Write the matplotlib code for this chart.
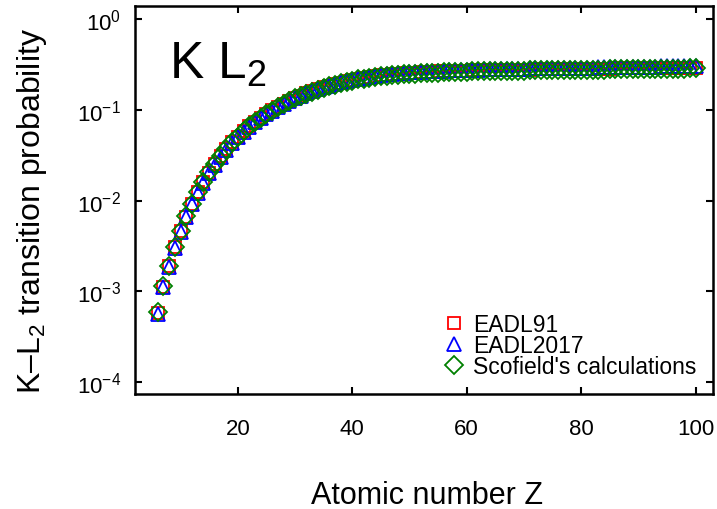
import matplotlib
matplotlib.use("Agg")
import matplotlib.pyplot as plt
from matplotlib.ticker import LogLocator, NullLocator, FixedLocator

plt.rcParams['font.family'] = ['Liberation Sans', 'DejaVu Sans']
plt.rcParams['mathtext.fontset'] = 'custom'
plt.rcParams['mathtext.rm'] = 'Liberation Sans'
plt.rcParams['mathtext.it'] = 'Liberation Sans:italic'
plt.rcParams['mathtext.bf'] = 'Liberation Sans:bold'
plt.rcParams['mathtext.default'] = 'regular'

Z = list(range(6, 101))

eadl91 = [5.8e-4, 1.13e-3, 1.9e-3, 3.1e-3, 4.6e-3, 6.7e-3, 9.2e-3, 1.24e-2, 1.6e-2, 2.03e-2,
          2.55e-2, 3.1e-2, 3.7e-2, 4.4e-2, 5.1e-2,
          0.058, 0.066, 0.074, 0.082, 0.090, 0.099, 0.108, 0.117, 0.126, 0.135,
          0.144, 0.153, 0.162, 0.170, 0.178, 0.186, 0.194, 0.201, 0.208, 0.215,
          0.221, 0.227, 0.232, 0.237, 0.241, 0.245, 0.248, 0.251, 0.254, 0.257,
          0.259, 0.261, 0.263, 0.265, 0.266, 0.268, 0.269, 0.270, 0.271, 0.272,
          0.273, 0.274, 0.275, 0.275, 0.276, 0.277, 0.277, 0.278, 0.278, 0.279,
          0.279, 0.280, 0.280, 0.281, 0.281, 0.282, 0.282, 0.283, 0.283, 0.284,
          0.284, 0.285, 0.285, 0.286, 0.286, 0.287, 0.287, 0.288, 0.288, 0.289,
          0.289, 0.290, 0.290, 0.291, 0.291, 0.292, 0.292, 0.293, 0.293, 0.294]

eadl2017 = [5.7e-4, 1.11e-3, 1.88e-3, 3.05e-3, 4.55e-3, 6.6e-3, 9.1e-3, 1.22e-2, 1.58e-2, 2.0e-2,
            2.5e-2, 3.05e-2, 3.65e-2, 4.35e-2, 5.05e-2,
            0.0575, 0.0655, 0.0735, 0.0815, 0.0895, 0.0985, 0.1075, 0.1165, 0.1255, 0.1345,
            0.1435, 0.1525, 0.1615, 0.170, 0.178, 0.186, 0.194, 0.202, 0.209, 0.216,
            0.222, 0.228, 0.234, 0.239, 0.243, 0.247, 0.251, 0.254, 0.257, 0.260,
            0.262, 0.264, 0.266, 0.268, 0.270, 0.272, 0.273, 0.275, 0.276, 0.277,
            0.278, 0.279, 0.280, 0.281, 0.282, 0.283, 0.284, 0.284, 0.285, 0.286,
            0.287, 0.287, 0.288, 0.289, 0.289, 0.290, 0.291, 0.291, 0.292, 0.293,
            0.293, 0.294, 0.295, 0.295, 0.296, 0.297, 0.297, 0.298, 0.299, 0.299,
            0.300, 0.301, 0.301, 0.302, 0.303, 0.303, 0.304, 0.305, 0.305, 0.306]

scofield = [5.9e-4, 1.14e-3, 1.92e-3, 3.12e-3, 4.65e-3, 6.75e-3, 9.3e-3, 1.25e-2, 1.62e-2, 2.05e-2,
            2.57e-2, 3.12e-2, 3.72e-2, 4.4e-2, 5.1e-2,
            0.058, 0.066, 0.074, 0.082, 0.090, 0.098, 0.107, 0.116, 0.125, 0.134,
            0.143, 0.151, 0.160, 0.168, 0.176, 0.184, 0.191, 0.198, 0.205, 0.211,
            0.217, 0.222, 0.227, 0.231, 0.235, 0.239, 0.242, 0.245, 0.248, 0.250,
            0.252, 0.254, 0.256, 0.258, 0.259, 0.261, 0.262, 0.263, 0.264, 0.265,
            0.266, 0.267, 0.268, 0.268, 0.269, 0.270, 0.270, 0.271, 0.272, 0.272,
            0.273, 0.273, 0.274, 0.274, 0.275, 0.275, 0.276, 0.276, 0.277, 0.277,
            0.278, 0.278, 0.279, 0.279, 0.280, 0.280, 0.281, 0.281, 0.282, 0.282,
            0.283, 0.283, 0.284, 0.284, 0.285, 0.285, 0.286, 0.286, 0.287, 0.287]

labels = ["EADL91", "EADL2017", "Scofield's calculations"]
xticks = [20, 40, 60, 80, 100]

fig = plt.figure(figsize=(7.17, 5.10), dpi=100)
ax = fig.add_axes([0.188, 0.2255, 0.806, 0.7605])

ax.plot(Z, eadl91, linestyle='none', marker='s', ms=8.5, mfc='none', mec=(1, 0, 0), mew=1.3, label=labels[0])
ax.plot(Z, eadl2017, linestyle='none', marker='^', ms=10.5, mfc='none', mec=(0, 0, 1), mew=1.3, label=labels[1])
ax.plot(Z, scofield, linestyle='none', marker='D', ms=9, mfc='none', mec=(0, 0.5, 0), mew=1.3, label=labels[2])

ax.set_yscale('log')
ax.set_xlim(2, 103)
ax.set_ylim(10 ** -4.13, 10 ** 0.145)
ax.xaxis.set_major_locator(FixedLocator(xticks))
ax.yaxis.set_major_locator(LogLocator(base=10, numticks=10))
ax.yaxis.set_minor_locator(NullLocator())
ax.xaxis.set_minor_locator(NullLocator())

for s in ax.spines.values():
    s.set_linewidth(1.8)
ax.tick_params(which='both', direction='in', top=True, right=True, length=5, width=1.5,
               labelsize=16)
ax.tick_params(axis='y', pad=10)
ax.tick_params(axis='x', pad=17)

fig.text(0.5 * (312 + 543) / 717, 1 - 504 / 510, 'Atomic number Z', fontsize=22,
         ha='center', va='baseline')
fig.text(32 / 717, 1 - 211 / 510, 'K\u2013L$_2$ transition probability', fontsize=23,
         rotation=90, ha='center', va='center')

ax.text(0.06, 0.817, 'K L$_2$', transform=ax.transAxes, fontsize=37, ha='left', va='baseline')

leg = ax.legend(loc='lower right', frameon=False, fontsize=16.5, handletextpad=0.25,
                labelspacing=-0.08, borderaxespad=0.3, handlelength=1.2,
                bbox_to_anchor=(1.0, 0.0))

fig.savefig('out.png', dpi=100)
